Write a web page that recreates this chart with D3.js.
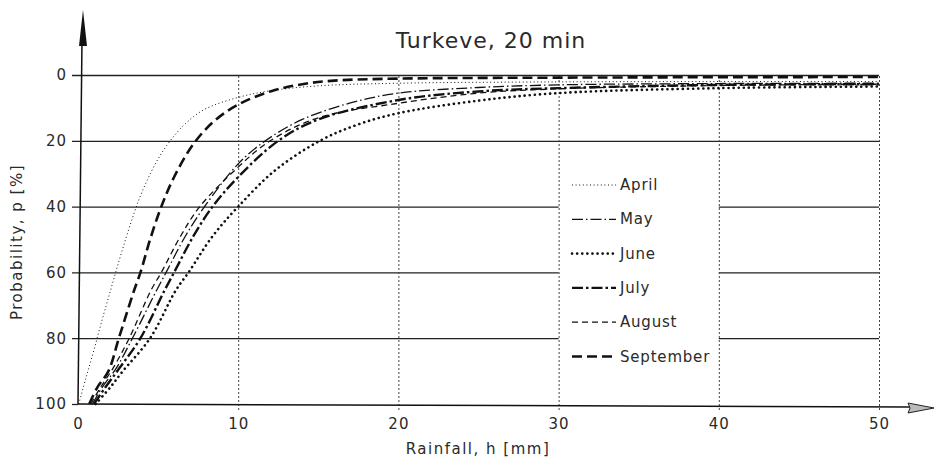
<!DOCTYPE html>
<html>
<head>
<meta charset="utf-8">
<script src="https://cdn.jsdelivr.net/npm/d3@7"></script>
<style>
  body { margin: 0; background: #fff; }
  text { font-family: "DejaVu Sans", "Noto Sans", sans-serif; fill: #2a2a2a; }
</style>
</head>
<body>
<div id="chart"></div>
<script>
// rainfall h [mm], probability p [%]
const april = [[0.05,100],[0.5,92],[1,83.5],[1.5,74.5],[2,66],[2.5,57.5],[3,49.5],[3.5,42],[4,35.5],[5,25.5],[6,18.5],[7,13.5],[8,10.2],[10,6.8],[12,4.8],[15,3.3],[20,2.5],[30,2.1],[40,2],[50,2]];
const may = [[0.9,100],[1.5,95],[2.4,89],[3.4,80],[4.9,65.5],[5.5,60],[6.7,49],[7.9,40],[10,27],[11.7,20],[14,13.5],[17,8.5],[20,5.5],[25,3.8],[30,3],[40,2.6],[50,2.5]];
const june = [[1.1,100],[2,95],[2.8,90],[4.5,80],[6.1,65.5],[6.9,60],[8.4,49],[10,40],[12.3,29],[15.1,20],[17.5,15],[20,11.6],[25,7.8],[30,5.5],[40,4],[50,3.5]];
const july = [[1,100],[1.7,95],[2.6,89],[3.9,80],[5.4,65.5],[6,60],[7.2,49],[8.4,40],[10,31],[12.5,20],[15,13.5],[20,7.6],[25,5],[30,4],[40,3],[50,2.8]];
const august = [[0.8,100],[1.4,95],[2.2,89],[3.2,80],[4.55,65.5],[5.2,60],[6.4,49],[7.6,40],[10,28],[12,20],[15,13],[20,8.6],[25,5.5],[30,4.2],[40,3.2],[50,2.8]];
const september = [[0.7,100],[1.2,95],[1.9,90],[2.55,80],[3.5,65.5],[3.9,60],[4.5,50],[5.2,40],[6,31],[7.2,21],[8.5,14],[10,9],[12,5],[14,2.8],[16,1.7],[20,1.1],[30,0.8],[50,0.6]];

const months = ['April', 'May', 'June', 'July', 'August', 'September'];
const seriesData = [april, may, june, july, august, september];
const xTicks = [0, 10, 20, 30, 40, 50];
const yTicks = [0, 20, 40, 60, 80, 100];

const styles = [
  { w: 1, dash: '1,2.6', cap: 'butt' },
  { w: 1.3, dash: '11,3,1.5,3', cap: 'butt' },
  { w: 2.6, dash: '0.1,5', cap: 'round' },
  { w: 2.4, dash: '11,3,2.5,3', cap: 'butt' },
  { w: 1.3, dash: '6,4', cap: 'butt' },
  { w: 2.6, dash: '10,5', cap: 'butt' },
];

const W = 936, H = 464;
const svg = d3.select('#chart').append('svg').attr('width', W).attr('height', H);

const x = d3.scaleLinear().domain([0, 50]).range([78, 879]);
const y = d3.scaleLinear().domain([0, 100]).range([75, 404]);

// horizontal grid + y labels
const yAxis = svg.append('g')
  .attr('transform', `translate(${x(0)},0)`)
  .call(d3.axisLeft(y).tickValues(yTicks).tickSize(6).tickPadding(5))
  .call(g => g.select('.domain').remove());
yAxis.selectAll('.tick line')
  .attr('x1', -6).attr('x2', d => d === 100 ? 0 : x(50) - x(0))
  .attr('stroke', '#222').attr('stroke-width', 1.3);
yAxis.selectAll('.tick text')
  .style('font-size', '15px').attr('fill', '#333').attr('letter-spacing', 1);

// legend background hides horizontal grid
svg.append('rect')
  .attr('x', x(30)).attr('y', 160)
  .attr('width', x(40) - x(30)).attr('height', 225)
  .attr('fill', '#fff');

// vertical dotted grid + x labels
const xAxis = svg.append('g')
  .attr('transform', `translate(0,${y(100)})`)
  .call(d3.axisBottom(x).tickValues(xTicks).tickSize(6).tickPadding(8))
  .call(g => g.select('.domain').remove());
xAxis.selectAll('.tick line')
  .attr('y1', d => d === 0 ? 0 : 6)
  .attr('y2', d => d === 0 ? 0 : y(0) - y(100))
  .attr('stroke', '#444').attr('stroke-width', 1).attr('stroke-dasharray', '2,2');
xAxis.selectAll('.tick text')
  .style('font-size', '15px').attr('fill', '#333').attr('letter-spacing', 1);

// axes with arrows
svg.append('line')
  .attr('x1', x(0)).attr('x2', x(0) + 4).attr('y1', y(100)).attr('y2', 40)
  .attr('stroke', '#111').attr('stroke-width', 1.5);
svg.append('path')
  .attr('d', `M${x(0) + 5},10 L${x(0) + 1},46 L${x(0) + 9},46 Z`)
  .attr('fill', '#111');
svg.append('line')
  .attr('x1', x(0)).attr('x2', 910).attr('y1', y(100)).attr('y2', y(100) + 3)
  .attr('stroke', '#111').attr('stroke-width', 1.5);
svg.append('path')
  .attr('d', `M934,${y(100) + 4} L908,${y(100) - 1} L910,${y(100) + 4} L908,${y(100) + 9} Z`)
  .attr('fill', '#bbb').attr('stroke', '#222').attr('stroke-width', 1);

// curves
const line = d3.line()
  .x(d => x(d[0]))
  .y(d => y(d[1]))
  .curve(d3.curveCatmullRom.alpha(0.5));

seriesData.forEach((s, i) => {
  svg.append('path')
    .datum(s)
    .attr('fill', 'none')
    .attr('stroke', '#111')
    .attr('stroke-width', styles[i].w)
    .attr('stroke-dasharray', styles[i].dash)
    .attr('stroke-linecap', styles[i].cap)
    .attr('d', line);
});

// legend
const legend = svg.append('g');
months.forEach((m, i) => {
  const ly = 185 + i * 34.3;
  legend.append('line')
    .attr('x1', 572).attr('x2', 616).attr('y1', ly).attr('y2', ly)
    .attr('stroke', '#111')
    .attr('stroke-width', styles[i].w)
    .attr('stroke-dasharray', styles[i].dash)
    .attr('stroke-linecap', styles[i].cap);
  legend.append('text')
    .attr('x', 620).attr('y', ly + 5)
    .style('font-size', '15px').attr('letter-spacing', 0.8)
    .text(m);
});

// title and axis labels
svg.append('text')
  .attr('x', 491).attr('y', 48).attr('text-anchor', 'middle')
  .style('font-size', '22px').attr('letter-spacing', 1)
  .text('Turkeve, 20 min');

svg.append('text')
  .attr('x', 478).attr('y', 454).attr('text-anchor', 'middle')
  .style('font-size', '15px').attr('letter-spacing', 1.5)
  .text('Rainfall,  h  [mm]');

svg.append('text')
  .attr('transform', 'translate(22,242) rotate(-90)')
  .attr('text-anchor', 'middle')
  .style('font-size', '15px').attr('letter-spacing', 1.5)
  .text('Probability,  p  [%]');
</script>
</body>
</html>
